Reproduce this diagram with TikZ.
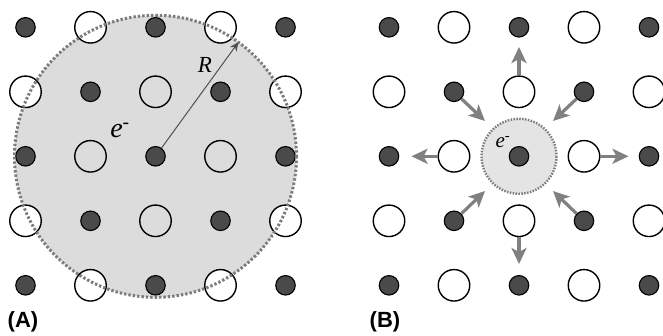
\documentclass[tikz,border=0pt]{standalone}
\usepackage{fontspec}
\setmainfont{Liberation Serif}
\setsansfont{Liberation Sans}
\usepackage{xcolor}
\usetikzlibrary{arrows.meta}

\definecolor{ionfill}{HTML}{4A4A4A}
\definecolor{cloudgrey}{HTML}{DCDCDC}
\definecolor{polgrey}{HTML}{E4E4E4}
\definecolor{dotgrey}{HTML}{7C7C7C}
\definecolor{pushgrey}{HTML}{808080}
\definecolor{radgrey}{HTML}{505050}

\begin{document}
\begin{tikzpicture}[
  x=1pt, y=-1pt,
  cation/.style={circle, draw=black, line width=1.1pt, fill=ionfill, minimum size=19.5pt, inner sep=0pt},
  anion/.style={circle, draw=black, line width=1.4pt, minimum size=31.5pt, inner sep=0pt},
  cloud/.style={circle, fill=cloudgrey, inner sep=0pt, minimum size=282pt},
  polaron/.style={circle, fill=polgrey, inner sep=0pt, minimum size=75pt},
  rim/.style={draw=dotgrey, line width=3pt, dash pattern=on 2.4pt off 2pt},
  rimsmall/.style={draw=dotgrey, line width=2.4pt, dash pattern=on 1.5pt off 1.4pt},
  rad/.style={-{Stealth[length=9pt,width=8pt]}, line width=1pt, draw=radgrey},
  push/.style={-{Stealth[length=16pt,width=15pt,inset=4pt]}, line width=3.2pt, draw=pushgrey},
  tag/.style={font=\sffamily\bfseries\fontsize{22}{22}\selectfont}
]
\useasboundingbox (0,0) rectangle (663,335);

% (A) large electron cloud
\node[cloud] (discA) at (155.5,156.3) {};
\foreach \i in {0,...,4}
  \foreach \j in {0,...,4} {
    \pgfmathtruncatemacro{\kind}{mod(\i+\j,2)}
    \pgfmathtruncatemacro{\outer}{or(or(\i==0,\i==4),or(\j==0,\j==4))}
    \ifnum\kind=0
      \node[cation] (a\i\j) at (25.5+65*\i, 27.3+64.5*\j) {};
    \else\ifnum\outer=1
      \node[anion, fill=white] (a\i\j) at (25.5+65*\i, 27.3+64.5*\j) {};
    \else
      \node[anion] (a\i\j) at (25.5+65*\i, 27.3+64.5*\j) {};
    \fi\fi
  }
\draw[rim] (discA.center) circle[radius=141];
\draw[rad] (a22) -- (discA.54);
\node[font=\itshape\fontsize{23}{23}\selectfont] (rlab) at (205,65) {R};
\node[font=\fontsize{28}{28}\selectfont] (elabA) at (120,130) {\textit{e}\textsuperscript{-}};
\node[tag] (tagA) at (23,322) {(A)};

% (B) polaron
\node[polaron] (discB) at (519,156.3) {};
\draw[rimsmall] (discB.center) circle[radius=37.5];
\foreach \i in {0,...,4}
  \foreach \j in {0,...,4} {
    \pgfmathtruncatemacro{\kind}{mod(\i+\j,2)}
    \ifnum\kind=0
      \node[cation] (b\i\j) at (389+65*\i, 27.3+64.5*\j) {};
    \else
      \node[anion, fill=white] (b\i\j) at (389+65*\i, 27.3+64.5*\j) {};
    \fi
  }
\node[font=\fontsize{21}{21}\selectfont] (elabB) at (503,142) {\textit{e}\textsuperscript{-}};
\node[tag] (tagB) at (385,322) {(B)};

\coordinate (pushN) at (519,47);
\coordinate (pushS) at (519,264);
\coordinate (pushW) at (411.5,156.3);
\coordinate (pushE) at (628.5,156.3);
\coordinate (pushNW) at (485,121);
\coordinate (pushNE) at (553,121);
\coordinate (pushSW) at (485,191);
\coordinate (pushSE) at (553,191);

\draw[push] (b21) -- (pushN);
\draw[push] (b23) -- (pushS);
\draw[push] (b12) -- (pushW);
\draw[push] (b32) -- (pushE);
\draw[push] (b11) -- (pushNW);
\draw[push] (b31) -- (pushNE);
\draw[push] (b13) -- (pushSW);
\draw[push] (b33) -- (pushSE);
\end{tikzpicture}
\end{document}
